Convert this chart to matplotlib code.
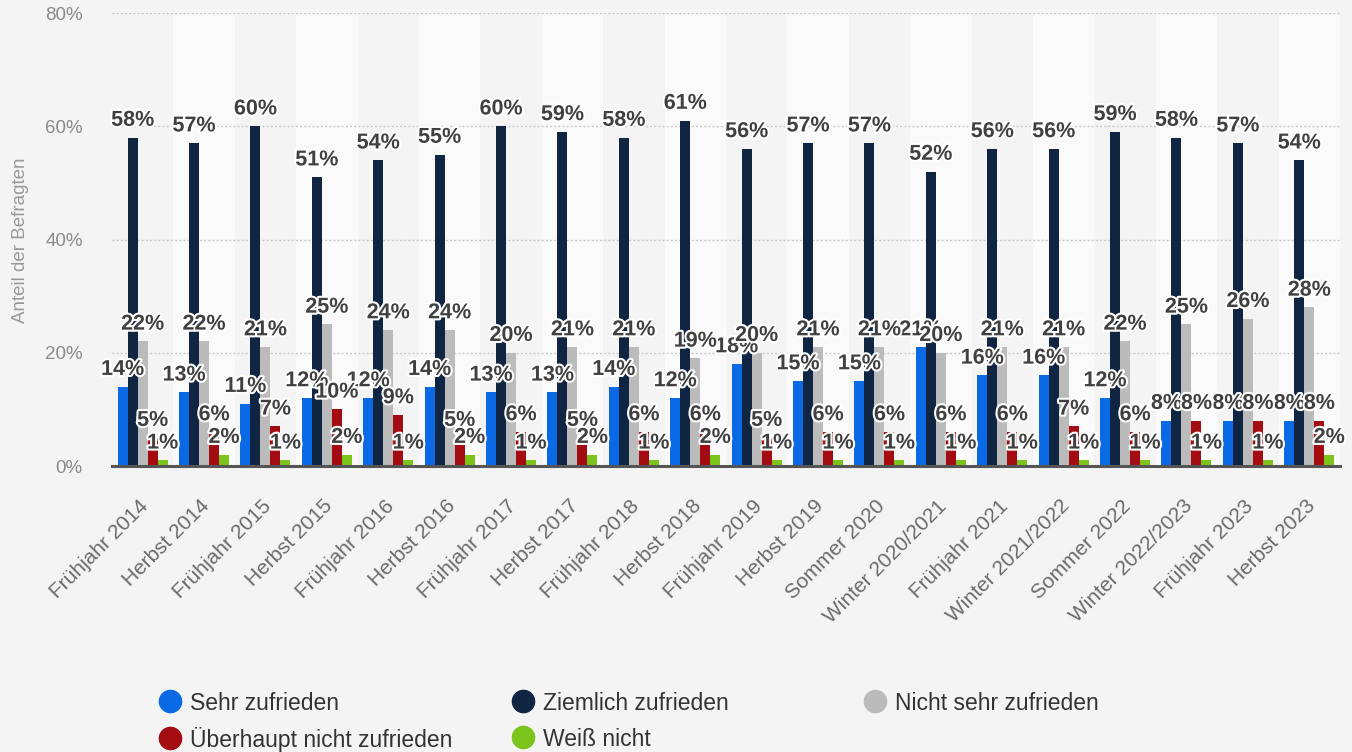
import matplotlib
matplotlib.use("Agg")
import matplotlib.pyplot as plt
import matplotlib.patheffects as pe
from matplotlib.lines import Line2D
from matplotlib.transforms import ScaledTranslation
import numpy as np

plt.rcParams['font.family'] = ['Liberation Sans', 'DejaVu Sans']

# data
categories = ["Frühjahr 2014", "Herbst 2014", "Frühjahr 2015", "Herbst 2015",
              "Frühjahr 2016", "Herbst 2016", "Frühjahr 2017", "Herbst 2017",
              "Frühjahr 2018", "Herbst 2018", "Frühjahr 2019", "Herbst 2019",
              "Sommer 2020", "Winter 2020/2021", "Frühjahr 2021", "Winter 2021/2022",
              "Sommer 2022", "Winter 2022/2023", "Frühjahr 2023", "Herbst 2023"]
sehr = [14, 13, 11, 12, 12, 14, 13, 13, 14, 12, 18, 15, 15, 21, 16, 16, 12, 8, 8, 8]
ziemlich = [58, 57, 60, 51, 54, 55, 60, 59, 58, 61, 56, 57, 57, 52, 56, 56, 59, 58, 57, 54]
nicht_sehr = [22, 22, 21, 25, 24, 24, 20, 21, 21, 19, 20, 21, 21, 20, 21, 21, 22, 25, 26, 28]
ueberhaupt = [5, 6, 7, 10, 9, 5, 6, 5, 6, 6, 5, 6, 6, 6, 6, 7, 6, 8, 8, 8]
weiss = [1, 2, 1, 2, 1, 2, 1, 2, 1, 2, 1, 1, 1, 1, 1, 1, 1, 1, 1, 2]

series = [
    ("Sehr zufrieden", sehr, "#0a6ae6"),
    ("Ziemlich zufrieden", ziemlich, "#0f2542"),
    ("Nicht sehr zufrieden", nicht_sehr, "#bbbbbb"),
    ("Überhaupt nicht zufrieden", ueberhaupt, "#a30d12"),
    ("Weiß nicht", weiss, "#7cc31c"),
]

bg = "#f4f4f4"
fig = plt.figure(figsize=(13.52, 7.52), dpi=100, facecolor=bg)
ax = fig.add_axes([0.0828, 0.3803, 0.9083, 0.6024])
ax.set_facecolor(bg)

x = np.arange(len(categories))
w = 0.163

# alternating column bands
for i in x:
    if i % 2 == 1:
        ax.axvspan(i - 0.5, i + 0.5, color="#fafafa", zorder=0, lw=0)

for yv in [20, 40, 60, 80]:
    ax.axhline(yv, color="#c8c8c8", lw=1, ls=(0, (1.5, 1.5)), zorder=1)

stroke = [pe.withStroke(linewidth=3, foreground="white")]
for k, (name, vals, col) in enumerate(series):
    pos = x + (k - 2) * w
    ax.bar(pos, vals, width=w, color=col, zorder=2, linewidth=0)
    for px, v in zip(pos, vals):
        ax.text(px, v + 1.2, f"{v}%", ha="center", va="bottom", fontsize=15.5,
                fontweight="bold", color="#404040", path_effects=stroke, zorder=4)

ax.set_xlim(-0.5, len(categories) - 0.5)
ax.set_ylim(0, 80)
ax.set_yticks([0, 20, 40, 60, 80])
ax.set_yticklabels(["0%", "20%", "40%", "60%", "80%"], fontsize=13.5, color="#8a8a8a")
ax.tick_params(axis="y", length=0, pad=21)
ax.set_xticks(x)
ax.set_xticklabels(categories, rotation=45, ha="right", va="top",
                   rotation_mode="anchor", fontsize=15, color="#6a6a6a")
ax.tick_params(axis="x", length=0, pad=14)
shift = ScaledTranslation(-0.04, -0.11, fig.dpi_scale_trans)
for lbl in ax.get_xticklabels():
    lbl.set_transform(lbl.get_transform() + shift)
for s in ["top", "right", "left"]:
    ax.spines[s].set_visible(False)
ax.spines["bottom"].set_color("#555555")
ax.spines["bottom"].set_linewidth(2.2)
ax.spines["bottom"].set_zorder(5)

fig.text(0.0148, 0.68, "Anteil der Befragten", rotation=90, ha="center", va="center",
         fontsize=13.5, color="#999999")

# legend: fixed grid like the original (3 columns, 2 rows)
leg_x = [158.5, 511.5, 863.5, 158.5, 511.5]
leg_y = [703, 703, 703, 739, 739]
for (name, _, col), lx, ly in zip(series, leg_x, leg_y):
    h = Line2D([], [], marker="o", ls="", markersize=16, markerfacecolor=col,
               markeredgecolor=col)
    fig.legend([h], [name], loc="center left",
               bbox_to_anchor=(lx / 1352, 1 - ly / 752), bbox_transform=fig.transFigure,
               frameon=False, fontsize=16.5, handlelength=1.0, handletextpad=0.37,
               borderpad=0, borderaxespad=0, labelcolor="#333333")

fig.savefig("out.png", dpi=100, facecolor=bg)
